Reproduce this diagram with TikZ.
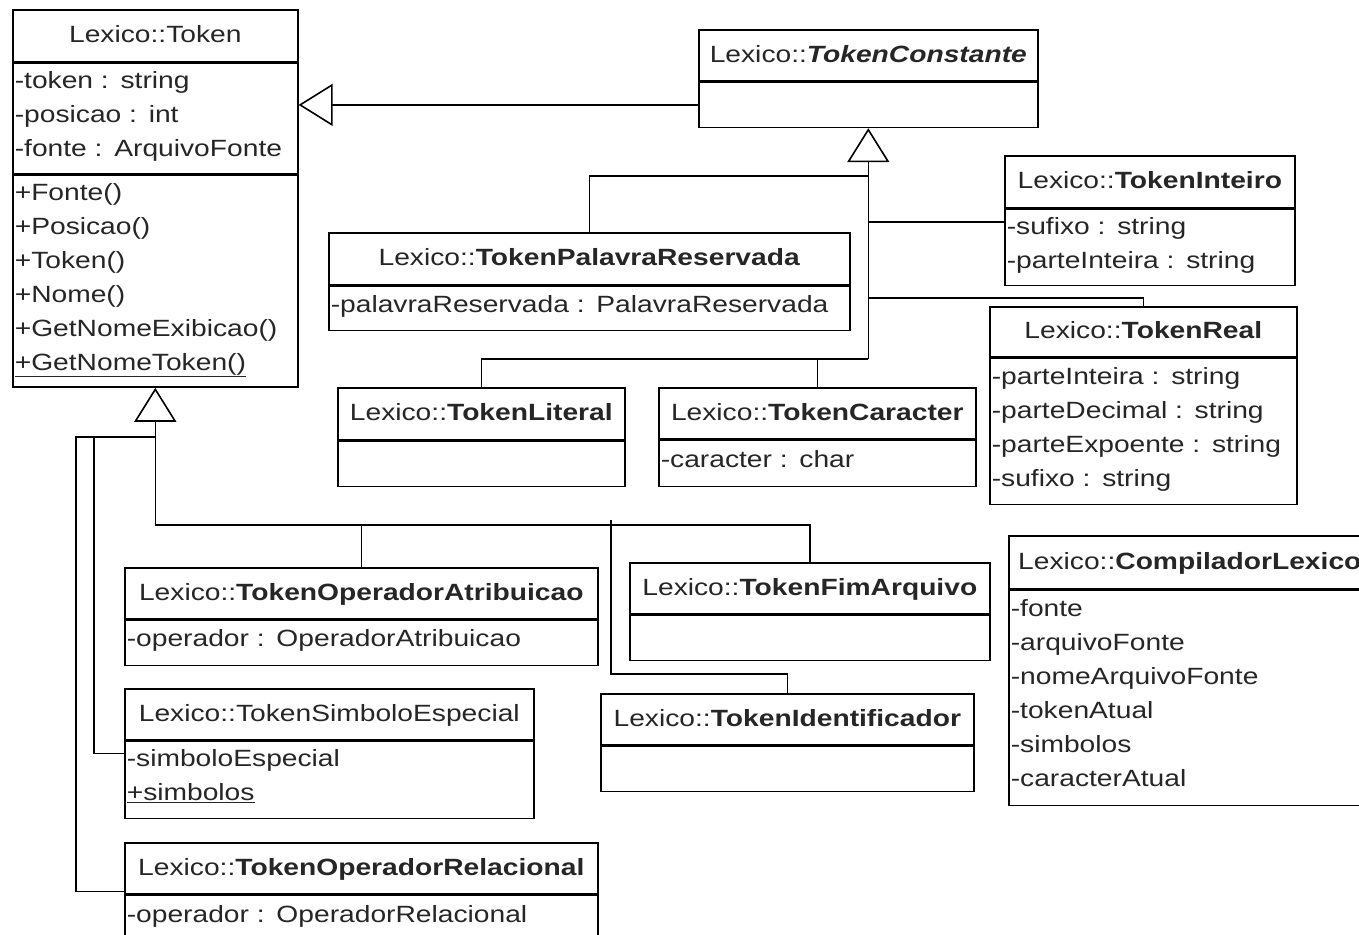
\documentclass[tikz,border=0pt]{standalone}
\usepackage{fontspec}
\setmainfont{Liberation Sans}[FakeStretch=1.2]
\usetikzlibrary{arrows.meta}

\begin{document}
\begin{tikzpicture}[x=1pt,y=-1pt,line width=1.6pt,
	every node/.style={draw,anchor=north west,inner xsep=2pt,inner ysep=4pt,text=black!85,
		font=\fontsize{23.5}{34}\selectfont},
	head/.style 2 args={text width=#1-4,minimum height=#2,align=center,
		execute at begin node=\strut,execute at end node=\strut},
	body/.style 2 args={text width=#1-4,minimum height=#2,align=left,
		execute at begin node={\rule{0pt}{21pt}},execute at end node={\rule[-13pt]{0pt}{13pt}}},
	gen/.style={-{Triangle[open,length=34pt,width=42pt]}}]

\fill[white] (0,0) rectangle (1359,934);
\clip (0,0) rectangle (1359,934);

%classes
\node[head={285}{52}] (tok) at (12,9) {Lexico::Token};
\node[body={285}{110}] (tok-a) at (tok.south west) {-token : string\\-posicao : int\\-fonte : ArquivoFonte};
\node[body={285}{212}] (tok-m) at (tok-a.south west) {+Fonte()\\+Posicao()\\+Token()\\+Nome()\\+GetNomeExibicao()\\\underline{+GetNomeToken()}};

\node[head={339}{51}] (const) at (698,29) {Lexico::\textbf{\textit{TokenConstante}}};
\node[body={339}{45}] (const-b) at (const.south west) {};

\node[head={290}{52}] (inteiro) at (1004,155) {Lexico::\textbf{TokenInteiro}};
\node[body={290}{76}] (inteiro-b) at (inteiro.south west) {-sufixo : string\\-parteInteira : string};

\node[head={521}{52}] (palavra) at (328,232) {Lexico::\textbf{TokenPalavraReservada}};
\node[body={521}{44}] (palavra-b) at (palavra.south west) {-palavraReservada : PalavraReservada};

\node[head={307}{50}] (real) at (989,306) {Lexico::\textbf{TokenReal}};
\node[body={307}{146}] (real-b) at (real.south west) {-parteInteira : string\\-parteDecimal : string\\-parteExpoente : string\\-sufixo : string};

\node[head={287}{52}] (literal) at (337,387) {Lexico::\textbf{TokenLiteral}};
\node[body={287}{45}] (literal-b) at (literal.south west) {};

\node[head={317}{51}] (caracter) at (658,387) {Lexico::\textbf{TokenCaracter}};
\node[body={317}{46}] (caracter-b) at (caracter.south west) {-caracter : char};

\node[head={473}{51}] (opatrib) at (124,567) {Lexico::\textbf{TokenOperadorAtribuicao}};
\node[body={473}{45}] (opatrib-b) at (opatrib.south west) {-operador : OperadorAtribuicao};

\node[head={360}{51}] (fim) at (629,562) {Lexico::\textbf{TokenFimArquivo}};
\node[body={360}{45}] (fim-b) at (fim.south west) {};

\node[head={362}{53}] (compil) at (1008,535) {Lexico::\textbf{CompiladorLexico}};
\node[body={362}{215}] (compil-b) at (compil.south west) {-fonte\\-arquivoFonte\\-nomeArquivoFonte\\-tokenAtual\\-simbolos\\-caracterAtual};

\node[head={409}{51}] (simbolo) at (124,688) {Lexico::TokenSimboloEspecial};
\node[body={409}{77}] (simbolo-b) at (simbolo.south west) {-simboloEspecial\\\underline{+simbolos}};

\node[head={373}{51}] (ident) at (600,693) {Lexico::\textbf{TokenIdentificador}};
\node[body={373}{45}] (ident-b) at (ident.south west) {};

\node[head={473}{51}] (oprel) at (124,842) {Lexico::\textbf{TokenOperadorRelacional}};
\node[body={473}{46}] (oprel-b) at (oprel.south west) {-operador : OperadorRelacional};

%generalizations to Token
\coordinate (tokbus) at ([yshift=-137pt]tok-m.south);
\coordinate (tokfork) at ([yshift=-49pt]tok-m.south);
\coordinate (identbus) at (611,520);
\draw[gen] (tokbus) -- (tok-m.south);
\draw (tokbus) -| (opatrib.north);
\draw (tokbus) -| (fim.north);
\draw (identbus) |- ([yshift=19pt]ident.north) -- (ident.north);
\draw (tokfork) -| ([xshift=-30pt,yshift=-13pt]simbolo.south west) -- ([yshift=-13pt]simbolo.south west);
\draw (tokfork) -| ([xshift=-48pt,yshift=3pt]oprel.south west) -- ([yshift=3pt]oprel.south west);
\draw[gen] (const-b.west) -- (const-b.west -| tok-a.east);

%generalizations to TokenConstante
\coordinate (constbus) at ([yshift=-231pt]const-b.south);
\draw[gen] (constbus) -- (const-b.south);
\draw ([yshift=-48pt]const-b.south) -| (palavra.north);
\draw ([yshift=-94pt]const-b.south) -- ([yshift=-94pt]const-b.south -| inteiro.west);
\draw ([yshift=-170pt]const-b.south) -| (real.north);
\draw (constbus) -| (literal.north);
\draw (constbus) -| (caracter.north);
\end{tikzpicture}
\end{document}
